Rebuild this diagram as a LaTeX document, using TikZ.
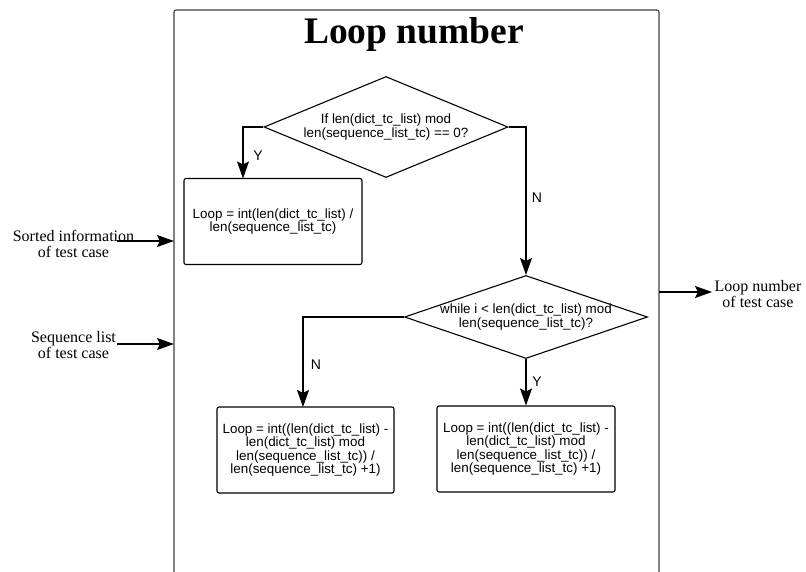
\documentclass[tikz,border=0pt]{standalone}
\usepackage{fontspec}
\setmainfont{Liberation Serif}
\setsansfont{Liberation Sans}
\usetikzlibrary{shapes.geometric,arrows.meta}

\tikzset{
  flow/.style={draw=black, line width=1.1pt},
  arr/.style={flow, -{Stealth[length=17pt,width=12pt,inset=3pt]}},
  boxfont/.style={font=\sffamily\fontsize{13.4}{13.4}\selectfont},
  stepbox/.style={boxfont, draw=black, line width=1.1pt, rounded corners=2pt,
    align=center, inner sep=0pt},
  decision/.style={draw=black, line width=1.1pt, diamond, inner sep=0pt},
  decisiontext/.style={boxfont, align=center, inner sep=0pt},
  branch/.style={font=\sffamily\fontsize{14}{15}\selectfont, inner sep=0pt},
  iotext/.style={align=center, inner sep=0pt, font=\fontsize{16}{16.6}\selectfont},
}

\begin{document}
\begin{tikzpicture}[x=1pt, y=-1pt]
  \useasboundingbox (0,0) rectangle (806,571);

  % enclosing frame, open at the bottom
  \draw[draw=black!75, line width=1.1pt, rounded corners=2pt]
    (174,600) -- (174,10) -- (659,10) -- (659,600);
  \node[font=\bfseries\fontsize{37.5}{40}\selectfont, inner sep=0pt] (title) at (414,34) {Loop number};

  % decisions
  \node[decision, minimum width=244pt, minimum height=101pt] (d1) at (386,127) {};
  \node[decisiontext] (d1t) at (d1.center)
    {If len(dict\_tc\_list) mod\\len(sequence\_list\_tc) == 0?};
  \node[decision, minimum width=243pt, minimum height=83pt] (d2) at (526,317) {};
  \node[decisiontext] (d2t) at (d2.center)
    {while i < len(dict\_tc\_list) mod\\len(sequence\_list\_tc)?};

  % actions
  \node[stepbox, minimum width=178pt, minimum height=86pt] (b1) at (273,221.5)
    {Loop = int(len(dict\_tc\_list) /\\len(sequence\_list\_tc)};
  \node[stepbox, minimum width=177pt, minimum height=86pt] (b2) at (305.5,450)
    {Loop = int((len(dict\_tc\_list) -\\len(dict\_tc\_list) mod\\len(sequence\_list\_tc)) /\\len(sequence\_list\_tc) +1)};
  \node[stepbox, minimum width=178pt, minimum height=86pt] (b3) at (526,449)
    {Loop = int((len(dict\_tc\_list) -\\len(dict\_tc\_list) mod\\len(sequence\_list\_tc)) /\\len(sequence\_list\_tc) +1)};

  % decision branches
  \coordinate (yes1) at (243,178.5);
  \draw[arr] (d1.west) -| (yes1);
  \draw[arr] (d1.east) -| (d2.north);
  \coordinate (no2) at (303,407);
  \draw[arr] (d2.west) -| (no2);
  \draw[arr] (d2.south) -- (b3.north);

  \node[branch] (ly1) at (258,156) {Y};
  \node[branch] (ln1) at (537,198) {N};
  \node[branch] (ln2) at (316,365) {N};
  \node[branch] (ly2) at (537,382) {Y};

  % inputs and output
  \node[iotext] (in1) at (73.5,244) {Sorted information\\of test case};
  \node[iotext] (in2) at (73.5,345) {Sequence list\\of test case};
  \node[iotext] (out) at (758,294) {Loop number\\of test case};

  \coordinate (s1) at (117,241);
  \coordinate (e1) at (174,241);
  \coordinate (s2) at (117,344);
  \coordinate (e2) at (174,344);
  \coordinate (s3) at (659,292);
  \coordinate (e3) at (712,292);
  \draw[arr] (s1) -- (e1);
  \draw[arr] (s2) -- (e2);
  \draw[arr] (s3) -- (e3);
\end{tikzpicture}
\end{document}
